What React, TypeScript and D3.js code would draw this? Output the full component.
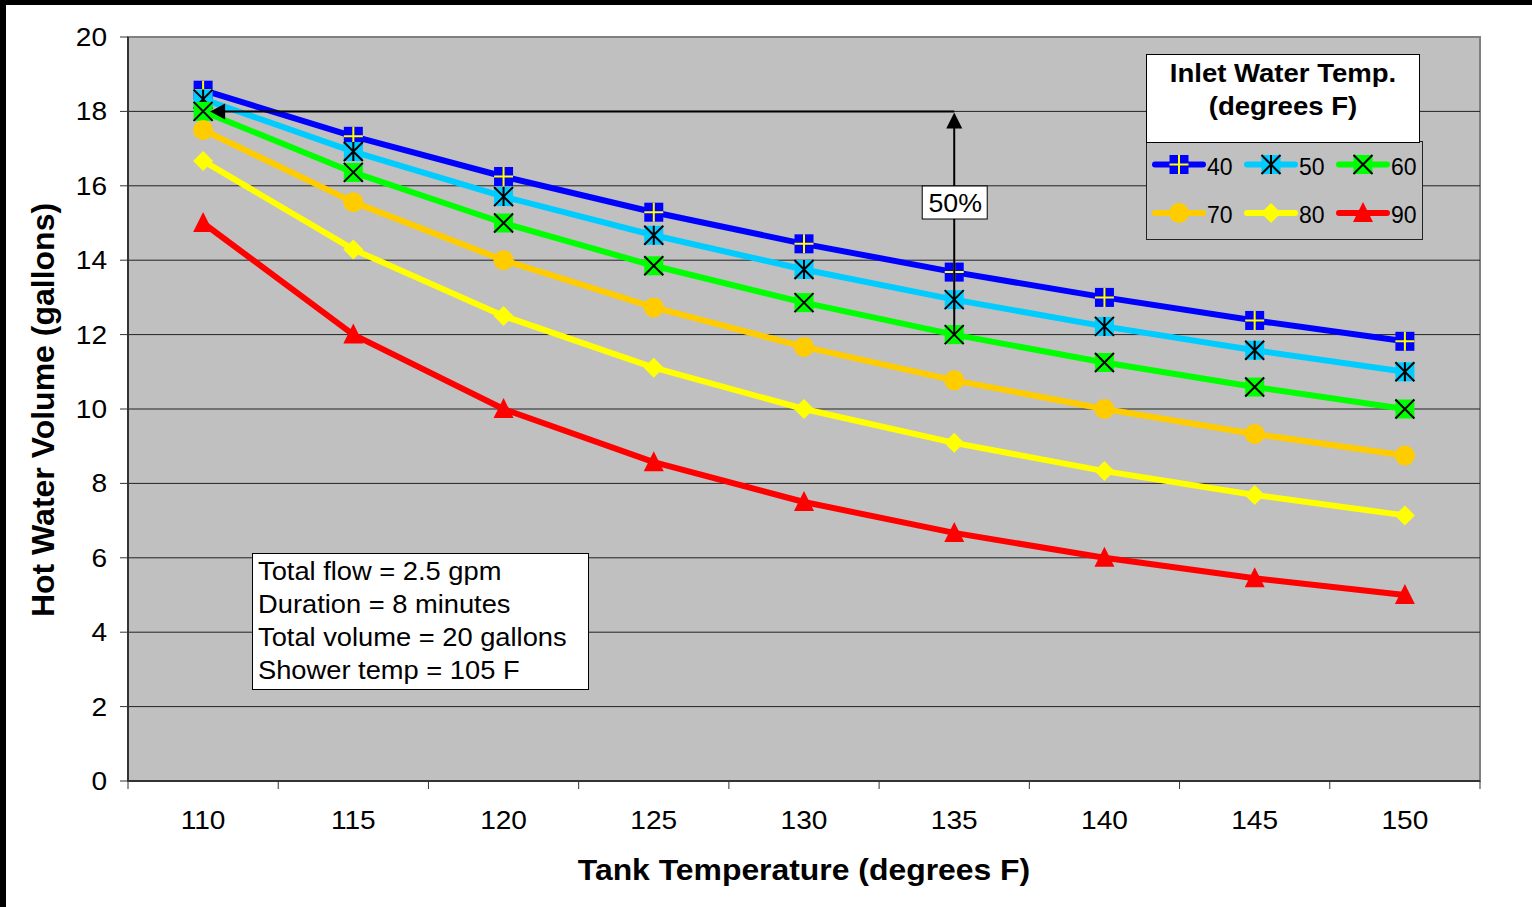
import React from "react";
import * as d3 from "d3";

const tankTemps = [110, 115, 120, 125, 130, 135, 140, 145, 150];
const yTicks = [0, 2, 4, 6, 8, 10, 12, 14, 16, 18, 20];

const inlet40 = [18.57, 17.33, 16.25, 15.29, 14.44, 13.68, 13.0, 12.38, 11.82];
const inlet50 = [18.33, 16.92, 15.71, 14.67, 13.75, 12.94, 12.22, 11.58, 11.0];
const inlet60 = [18.0, 16.36, 15.0, 13.85, 12.86, 12.0, 11.25, 10.59, 10.0];
const inlet70 = [17.5, 15.56, 14.0, 12.73, 11.67, 10.77, 10.0, 9.33, 8.75];
const inlet80 = [16.67, 14.29, 12.5, 11.11, 10.0, 9.09, 8.33, 7.69, 7.14];
const inlet90 = [15.0, 12.0, 10.0, 8.57, 7.5, 6.67, 6.0, 5.45, 5.0];

const noteLines = [
  "Total flow = 2.5 gpm",
  "Duration = 8 minutes",
  "Total volume = 20 gallons",
  "Shower temp = 105 F",
];

type Marker = "plus" | "star" | "x" | "circle" | "diamond" | "triangle";

const series: { name: string; values: number[]; color: string; marker: Marker }[] = [
  { name: "40", values: inlet40, color: "#0000ff", marker: "plus" },
  { name: "50", values: inlet50, color: "#00ccff", marker: "star" },
  { name: "60", values: inlet60, color: "#00ff00", marker: "x" },
  { name: "70", values: inlet70, color: "#ffcc00", marker: "circle" },
  { name: "80", values: inlet80, color: "#ffff00", marker: "diamond" },
  { name: "90", values: inlet90, color: "#ff0000", marker: "triangle" },
];

const FONT = "'Liberation Sans', Arial, sans-serif";
const W = 1532;
const H = 907;
const plot = { left: 128, right: 1480, top: 37, bottom: 781 };

const x = d3
  .scaleBand<number>()
  .domain(tankTemps)
  .range([plot.left, plot.right]);
const cx = (t: number) => (x(t) as number) + x.bandwidth() / 2;

const y = d3.scaleLinear().domain([0, 20]).range([plot.bottom, plot.top]);

const line = d3
  .line<number>()
  .x((_, i) => cx(tankTemps[i]))
  .y((d) => y(d));

// text slightly stretched horizontally, the source picture is a bit wide
function T({
  x: tx,
  y: ty,
  sx = 1,
  size,
  anchor = "start",
  bold = false,
  children,
}: {
  x: number;
  y: number;
  sx?: number;
  size: number;
  anchor?: string;
  bold?: boolean;
  children: React.ReactNode;
}) {
  return (
    <text
      transform={`translate(${tx},${ty}) scale(${sx},1)`}
      textAnchor={anchor}
      fontSize={size}
      fontWeight={bold ? "bold" : "normal"}
      fill="#000"
    >
      {children}
    </text>
  );
}

function MarkerShape({ type, color, px, py }: { type: Marker; color: string; px: number; py: number }) {
  const s = 9.5;
  if (type === "plus") {
    return (
      <g>
        <rect x={px - s} y={py - s} width={2 * s} height={2 * s} fill={color} />
        <path d={`M${px - s},${py}H${px + s}M${px},${py - s}V${py + s}`} stroke="#ffff00" strokeWidth={2} />
      </g>
    );
  }
  if (type === "star") {
    return (
      <g>
        <rect x={px - s} y={py - s} width={2 * s} height={2 * s} fill={color} />
        <path
          d={`M${px - s},${py - s}L${px + s},${py + s}M${px + s},${py - s}L${px - s},${py + s}M${px},${py - s}V${py + s}`}
          stroke="#000"
          strokeWidth={2}
        />
      </g>
    );
  }
  if (type === "x") {
    return (
      <g>
        <rect x={px - s} y={py - s} width={2 * s} height={2 * s} fill={color} />
        <path
          d={`M${px - s},${py - s}L${px + s},${py + s}M${px + s},${py - s}L${px - s},${py + s}`}
          stroke="#000"
          strokeWidth={2}
        />
      </g>
    );
  }
  if (type === "circle") {
    return <circle cx={px} cy={py} r={10} fill={color} />;
  }
  if (type === "diamond") {
    return <path d={`M${px},${py - 10}L${px + 10},${py}L${px},${py + 10}L${px - 10},${py}Z`} fill={color} />;
  }
  return <path d={`M${px},${py - 11}L${px + 10},${py + 9}L${px - 10},${py + 9}Z`} fill={color} />;
}

export default function App() {
  const y18 = y(18);
  const x110 = cx(110);
  const x135 = cx(135);
  const y12 = y(12);

  return (
    <div style={{ position: "absolute", left: 0, top: 0 }}>
      <svg width={W} height={H} style={{ display: "block", fontFamily: FONT }}>
        <rect x={0} y={0} width={W} height={H} fill="#fff" />
        {/* black frame on top/left edge */}
        <rect x={0} y={0} width={W} height={5} fill="#000" />
        <rect x={0} y={0} width={6} height={H} fill="#000" />

        {/* plot area */}
        <rect
          x={plot.left}
          y={plot.top}
          width={plot.right - plot.left}
          height={plot.bottom - plot.top}
          fill="#c0c0c0"
          stroke="#808080"
          strokeWidth={2}
        />
        {yTicks.slice(1, -1).map((t) => (
          <line key={t} x1={plot.left} x2={plot.right} y1={y(t)} y2={y(t)} stroke="#222" strokeWidth={1} />
        ))}

        {/* axes */}
        <line x1={plot.left} x2={plot.left} y1={plot.top} y2={plot.bottom} stroke="#333" strokeWidth={2} />
        <line x1={plot.left} x2={plot.right} y1={plot.bottom} y2={plot.bottom} stroke="#333" strokeWidth={2} />
        {yTicks.map((t) => (
          <g key={t}>
            <line x1={plot.left - 8} x2={plot.left} y1={y(t)} y2={y(t)} stroke="#333" strokeWidth={1} />
            <T x={107} y={y(t) + 9} size={26} sx={1.08} anchor="end">
              {t}
            </T>
          </g>
        ))}
        {tankTemps.map((t, i) => (
          <g key={t}>
            <line
              x1={x(t) as number}
              x2={x(t) as number}
              y1={plot.bottom}
              y2={plot.bottom + 8}
              stroke="#333"
              strokeWidth={1}
            />
            {i === tankTemps.length - 1 && (
              <line x1={plot.right} x2={plot.right} y1={plot.bottom} y2={plot.bottom + 8} stroke="#333" strokeWidth={1} />
            )}
            <T x={cx(t)} y={829} size={26} sx={1.08} anchor="middle">
              {t}
            </T>
          </g>
        ))}

        {/* axis titles */}
        <T x={804} y={880} size={29} sx={1.1} anchor="middle" bold>
          Tank Temperature (degrees F)
        </T>
        <text
          transform={`translate(54,410) rotate(-90)`}
          textAnchor="middle"
          fontSize={32}
          fontWeight="bold"
        >
          Hot Water Volume (gallons)
        </text>

        {/* series */}
        {series.map((s) => (
          <g key={s.name}>
            <path d={line(s.values) as string} fill="none" stroke={s.color} strokeWidth={6} strokeLinejoin="round" />
            {s.values.map((v, i) => (
              <MarkerShape key={i} type={s.marker} color={s.color} px={cx(tankTemps[i])} py={y(v)} />
            ))}
          </g>
        ))}

        {/* annotation arrows */}
        <line x1={x135} x2={x110 + 20} y1={y18} y2={y18} stroke="#000" strokeWidth={2} />
        <path d={`M${x110 + 7},${y18}L${x110 + 22},${y18 - 8}L${x110 + 22},${y18 + 8}Z`} fill="#000" />
        <line x1={x135} x2={x135} y1={y12} y2={y18 + 14} stroke="#000" strokeWidth={2} />
        <path d={`M${x135},${y18 + 1}L${x135 + 8},${y18 + 17}L${x135 - 8},${y18 + 17}Z`} fill="#000" />
        <rect x={x135 - 32} y={186} width={65} height={33} fill="#fff" stroke="#000" strokeWidth={1} />
        <T x={x135 + 1} y={212} size={25} sx={1.07} anchor="middle">
          50%
        </T>

        {/* note box */}
        <rect x={252.5} y={553.5} width={336} height={136} fill="#fff" stroke="#000" strokeWidth={1} />
        {noteLines.map((t, i) => (
          <T key={t} x={258} y={580 + i * 33} size={26} sx={1.05}>
            {t}
          </T>
        ))}

        {/* legend */}
        <rect x={1146.5} y={141.5} width={276} height={98} fill="#c0c0c0" stroke="#222" strokeWidth={1} />
        <rect x={1146.5} y={54.5} width={273} height={88} fill="#fff" stroke="#000" strokeWidth={1} />
        <T x={1283} y={81.5} size={26.5} sx={1.04} anchor="middle" bold>
          Inlet Water Temp.
        </T>
        <T x={1283} y={115} size={26.5} sx={1.04} anchor="middle" bold>
          (degrees F)
        </T>
        {series.map((s, i) => {
          const col = i % 3;
          const row = Math.floor(i / 3);
          const lx = 1153 + col * 92;
          const ly = 164.5 + row * 48.5;
          return (
            <g key={s.name}>
              <line x1={lx + 2} x2={lx + 50} y1={ly} y2={ly} stroke={s.color} strokeWidth={6} strokeLinecap="round" />
              <MarkerShape type={s.marker} color={s.color} px={lx + 26} py={ly} />
              <T x={lx + 54} y={ly + 10} size={23}>
                {s.name}
              </T>
            </g>
          );
        })}
      </svg>
    </div>
  );
}
